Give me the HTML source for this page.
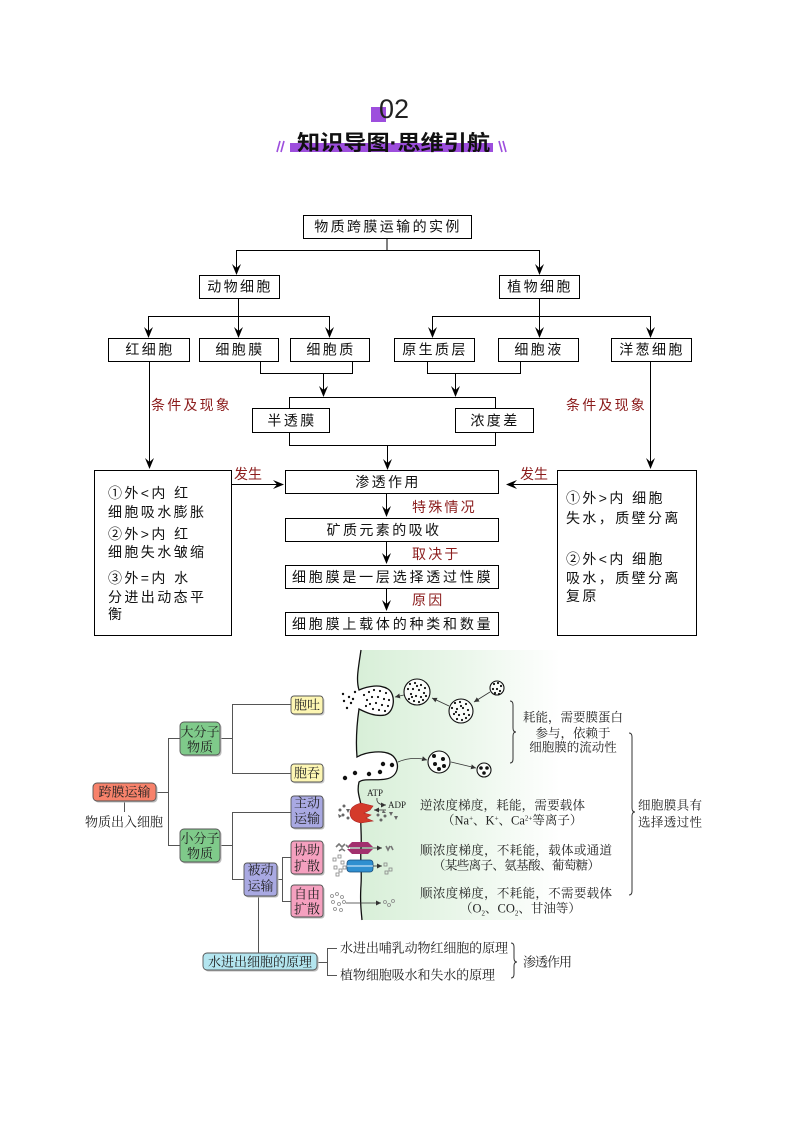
<!DOCTYPE html>
<html>
<head>
<meta charset="utf-8">
<style>
html,body{margin:0;padding:0;background:#fff;}
svg{display:block;}
.s{font-family:"Liberation Sans","Noto Sans CJK SC",sans-serif;font-size:14px;fill:#111;letter-spacing:2.4px;}
.r{font-family:"Liberation Sans","Noto Sans CJK SC",sans-serif;font-size:14px;fill:#8b1c1c;letter-spacing:2.2px;}
.f{font-family:"Liberation Serif","Noto Serif CJK SC",serif;font-size:13px;fill:#222;}
.g{font-family:"Liberation Serif","Noto Serif CJK SC",serif;font-size:12.5px;fill:#222;}
</style>
</head>
<body>
<svg width="794" height="1123" viewBox="0 0 794 1123" xmlns="http://www.w3.org/2000/svg">
<defs>
<linearGradient id="gr" x1="360" y1="0" x2="560" y2="0" gradientUnits="userSpaceOnUse">
<stop offset="0" stop-color="#d8efd8"/>
<stop offset="0.55" stop-color="#ecf7ec"/>
<stop offset="1" stop-color="#ffffff"/>
</linearGradient>
<marker id="ma" markerWidth="6" markerHeight="6" refX="5" refY="3" orient="auto" markerUnits="userSpaceOnUse">
<path d="M0,0.5 L5,3 L0,5.5 Z" fill="#333"/>
</marker>
</defs>

<!-- HEADER -->
<rect x="371" y="107" width="15" height="15" fill="#9d4edd"/>
<text x="379" y="118" font-family="'Liberation Sans',sans-serif" font-size="27" fill="#222">02</text>
<rect x="290" y="143" width="203" height="9" fill="#9d4edd"/>
<text x="297" y="150" font-family="'Liberation Sans','Noto Sans CJK SC',sans-serif" font-size="21" font-weight="700" fill="#111" textLength="193" lengthAdjust="spacingAndGlyphs">知识导图·思维引航</text>
<g stroke="#9d4edd" stroke-width="1.6">
<line x1="277" y1="152" x2="280" y2="141"/><line x1="281" y1="152" x2="284" y2="141"/>
<line x1="499" y1="141" x2="502" y2="152"/><line x1="503" y1="141" x2="506" y2="152"/>
</g>

<!-- TOP FLOWCHART -->
<g stroke="#000" stroke-width="1" fill="none">
<rect x="303.5" y="215.5" width="168" height="23"/>
<line x1="387" y1="238" x2="387" y2="250"/>
<line x1="236" y1="250.5" x2="539" y2="250.5"/>
<line x1="236.5" y1="250" x2="236.5" y2="270"/>
<line x1="539.5" y1="250" x2="539.5" y2="270"/>
<rect x="199.5" y="275.5" width="80" height="23"/>
<rect x="499.5" y="275.5" width="80" height="23"/>
<line x1="238.5" y1="298" x2="238.5" y2="332"/>
<line x1="148" y1="316.5" x2="330" y2="316.5"/>
<line x1="148.5" y1="316" x2="148.5" y2="332"/>
<line x1="329.5" y1="316" x2="329.5" y2="332"/>
<line x1="539.5" y1="298" x2="539.5" y2="332"/>
<line x1="432" y1="316.5" x2="651" y2="316.5"/>
<line x1="432.5" y1="316" x2="432.5" y2="332"/>
<line x1="650.5" y1="316" x2="650.5" y2="332"/>
<rect x="108.5" y="338.5" width="81" height="23"/>
<rect x="199.5" y="338.5" width="79" height="23"/>
<rect x="290.5" y="338.5" width="79" height="23"/>
<rect x="394.5" y="338.5" width="80" height="23"/>
<rect x="498.5" y="338.5" width="80" height="23"/>
<rect x="611.5" y="338.5" width="80" height="23"/>
<polyline points="260.5,361 260.5,373.5 352.5,373.5 352.5,361"/>
<line x1="323.5" y1="373" x2="323.5" y2="392"/>
<polyline points="427.5,361 427.5,373.5 520.5,373.5 520.5,361"/>
<line x1="455.5" y1="373" x2="455.5" y2="392"/>
<polyline points="289.5,408 289.5,397.5 495.5,397.5 495.5,408"/>
<rect x="252.5" y="408.5" width="77" height="24"/>
<rect x="455.5" y="408.5" width="78" height="24"/>
<polyline points="289.5,432 289.5,445.5 495.5,445.5 495.5,432"/>
<line x1="387.5" y1="445" x2="387.5" y2="465"/>
<line x1="149.5" y1="361" x2="149.5" y2="464"/>
<line x1="650.5" y1="361" x2="650.5" y2="464"/>
<rect x="94.5" y="470.5" width="137" height="165"/>
<rect x="557.5" y="470.5" width="139" height="165"/>
<rect x="285.5" y="470.5" width="213" height="23"/>
<rect x="285.5" y="518.5" width="213" height="23"/>
<rect x="285.5" y="565.5" width="213" height="23"/>
<rect x="285.5" y="612.5" width="213" height="23"/>
<line x1="231" y1="484.5" x2="278" y2="484.5"/>
<line x1="557" y1="484.5" x2="512" y2="484.5"/>
<line x1="386.5" y1="493" x2="386.5" y2="511"/>
<line x1="386.5" y1="541" x2="386.5" y2="558"/>
<line x1="386.5" y1="588" x2="386.5" y2="605"/>
</g>
<g fill="#000">
<polygon points="236.5,275 232,264 236.5,268 241,264"/>
<polygon points="539.5,275 535,264 539.5,268 544,264"/>
<polygon points="148.5,338 144,327 148.5,331 153,327"/>
<polygon points="238.5,338 234,327 238.5,331 243,327"/>
<polygon points="329.5,338 325,327 329.5,331 334,327"/>
<polygon points="432.5,338 428,327 432.5,331 437,327"/>
<polygon points="539.5,338 535,327 539.5,331 544,327"/>
<polygon points="650.5,338 646,327 650.5,331 655,327"/>
<polygon points="323.5,397 319,386 323.5,390 328,386"/>
<polygon points="455.5,397 451,386 455.5,390 460,386"/>
<polygon points="387.5,470 383,459 387.5,463 392,459"/>
<polygon points="149.5,469 145,458 149.5,462 154,458"/>
<polygon points="650.5,469 646,458 650.5,462 655,458"/>
<polygon points="284,484.5 273,480 277,484.5 273,489"/>
<polygon points="506,484.5 517,480 513,484.5 517,489"/>
<polygon points="386.5,517 382,506 386.5,510 391,506"/>
<polygon points="386.5,564 382,553 386.5,557 391,553"/>
<polygon points="386.5,611 382,600 386.5,604 391,600"/>
</g>

<g class="s" text-anchor="middle">
<text x="388" y="231.5">物质跨膜运输的实例</text>
<text x="240" y="291.5">动物细胞</text>
<text x="540" y="291.5">植物细胞</text>
<text x="150" y="354.5">红细胞</text>
<text x="240" y="354.5">细胞膜</text>
<text x="331" y="354.5">细胞质</text>
<text x="435" y="354.5">原生质层</text>
<text x="539" y="354.5">细胞液</text>
<text x="652" y="354.5">洋葱细胞</text>
<text x="292" y="425.5">半透膜</text>
<text x="495" y="425.5">浓度差</text>
<text x="388" y="487">渗透作用</text>
<text x="384" y="535">矿质元素的吸收</text>
</g>
<text class="s" x="292" y="582" textLength="201" lengthAdjust="spacing">细胞膜是一层选择透过性膜</text>
<text class="s" x="292" y="629" textLength="201" lengthAdjust="spacing">细胞膜上载体的种类和数量</text>

<g class="r">
<text x="151" y="410">条件及现象</text>
<text x="566" y="410">条件及现象</text>
<text x="234" y="479" letter-spacing="0">发生</text>
<text x="520" y="479" letter-spacing="0">发生</text>
<text x="412" y="512">特殊情况</text>
<text x="412" y="559">取决于</text>
<text x="412" y="605">原因</text>
</g>

<g class="s" letter-spacing="2.6">
<text x="108" y="498">①外&lt;内 红</text>
<text x="108" y="517">细胞吸水膨胀</text>
<text x="108" y="539">②外&gt;内 红</text>
<text x="108" y="557">细胞失水皱缩</text>
<text x="108" y="583">③外=内 水</text>
<text x="108" y="602">分进出动态平</text>
<text x="108" y="619">衡</text>
<text x="566" y="503">①外&gt;内 细胞</text>
<text x="566" y="523">失水，质壁分离</text>
<text x="566" y="564">②外&lt;内 细胞</text>
<text x="566" y="583">吸水，质壁分离</text>
<text x="566" y="601">复原</text>
</g>

<!-- LOWER DIAGRAM: membrane region -->
<path d="M361 650 C358 670 356 680 359 690 C368 686 380 684 388 689 C396 694 395 712 385 715 C375 717 365 712 359 709 C356 730 356 745 357 757 C365 752 385 749 393 756 C401 764 398 777 386 779 C375 781 364 778 359 782 C356 795 362 800 361 810 C360 825 362 835 361 848 C360 860 362 870 361 885 C360 900 361 910 362 920 L560 920 L560 650 Z" fill="url(#gr)"/>
<path d="M361 650 C358 670 356 680 359 690 C368 686 380 684 388 689 C396 694 395 712 385 715 C375 717 365 712 359 709 C356 730 356 745 357 757 C365 752 385 749 393 756 C401 764 398 777 386 779 C375 781 364 778 359 782 C356 795 362 800 361 810 C360 825 362 835 361 848 C360 860 362 870 361 885 C360 900 361 910 362 920" fill="none" stroke="#111" stroke-width="1.3"/>

<!-- vesicles -->
<g fill="#fafdfa" stroke="#111" stroke-width="1.1">
<circle cx="417" cy="692" r="13"/>
<circle cx="461" cy="711" r="12"/>
<circle cx="497" cy="688" r="7"/>
<circle cx="439" cy="762" r="11"/>
<circle cx="484" cy="770" r="7"/>
</g>
<g fill="#111">
<circle cx="410" cy="684" r="1.1"/><circle cx="415" cy="683" r="1.1"/><circle cx="421" cy="685" r="1.1"/><circle cx="425" cy="688" r="1.1"/><circle cx="408" cy="689" r="1.1"/><circle cx="413" cy="689" r="1.1"/><circle cx="419" cy="690" r="1.1"/><circle cx="424" cy="693" r="1.1"/><circle cx="411" cy="694" r="1.1"/><circle cx="416" cy="696" r="1.1"/><circle cx="421" cy="697" r="1.1"/><circle cx="426" cy="696" r="1.1"/><circle cx="409" cy="699" r="1.1"/><circle cx="414" cy="701" r="1.1"/><circle cx="419" cy="702" r="1.1"/><circle cx="423" cy="700" r="1.1"/><circle cx="417" cy="686" r="1.1"/><circle cx="412" cy="697" r="1.1"/>
<circle cx="455" cy="703" r="1.1"/><circle cx="460" cy="702" r="1.1"/><circle cx="466" cy="704" r="1.1"/><circle cx="452" cy="708" r="1.1"/><circle cx="457" cy="709" r="1.1"/><circle cx="463" cy="708" r="1.1"/><circle cx="468" cy="710" r="1.1"/><circle cx="454" cy="714" r="1.1"/><circle cx="459" cy="715" r="1.1"/><circle cx="464" cy="714" r="1.1"/><circle cx="469" cy="715" r="1.1"/><circle cx="457" cy="719" r="1.1"/><circle cx="462" cy="720" r="1.1"/><circle cx="466" cy="718" r="1.1"/><circle cx="461" cy="706" r="1.1"/><circle cx="456" cy="712" r="1.1"/>
<circle cx="494" cy="684" r="1.1"/><circle cx="498" cy="683" r="1.1"/><circle cx="501" cy="686" r="1.1"/><circle cx="493" cy="689" r="1.1"/><circle cx="497" cy="689" r="1.1"/><circle cx="500" cy="691" r="1.1"/><circle cx="495" cy="693" r="1.1"/><circle cx="499" cy="694" r="1.1"/>
<circle cx="364" cy="695" r="1.1"/><circle cx="369" cy="692" r="1.1"/><circle cx="374" cy="690" r="1.1"/><circle cx="380" cy="691" r="1.1"/><circle cx="386" cy="693" r="1.1"/><circle cx="367" cy="700" r="1.1"/><circle cx="372" cy="697" r="1.1"/><circle cx="378" cy="697" r="1.1"/><circle cx="384" cy="699" r="1.1"/><circle cx="389" cy="700" r="1.1"/><circle cx="370" cy="704" r="1.1"/><circle cx="376" cy="703" r="1.1"/><circle cx="382" cy="705" r="1.1"/><circle cx="388" cy="706" r="1.1"/><circle cx="373" cy="709" r="1.1"/><circle cx="379" cy="710" r="1.1"/><circle cx="385" cy="711" r="1.1"/><circle cx="366" cy="706" r="1.1"/>
<circle cx="343" cy="694" r="1.2"/><circle cx="349" cy="697" r="1.2"/><circle cx="344" cy="701" r="1.2"/><circle cx="351" cy="703" r="1.2"/><circle cx="347" cy="708" r="1.2"/><circle cx="353" cy="699" r="1.2"/><circle cx="355" cy="692" r="1.2"/>
<circle cx="383" cy="764" r="2.2"/><circle cx="392" cy="765" r="2.2"/><circle cx="369" cy="774" r="2.2"/><circle cx="380" cy="772" r="2.2"/><circle cx="355" cy="773" r="2.2"/><circle cx="345" cy="778" r="2.2"/>
<circle cx="434" cy="756" r="2"/><circle cx="443" cy="759" r="2"/><circle cx="435" cy="764" r="2"/><circle cx="444" cy="766" r="2"/><circle cx="439" cy="769" r="2"/>
<circle cx="481" cy="768" r="1.8"/><circle cx="487" cy="768" r="1.8"/><circle cx="484" cy="773" r="1.8"/>
</g>
<g stroke="#333" stroke-width="0.8" fill="none" marker-end="url(#ma)">
<line x1="490" y1="692" x2="474" y2="702"/>
<line x1="449" y1="706" x2="432" y2="698"/>
<line x1="404" y1="695" x2="395" y2="697"/>
<path d="M398 762 Q412 756 427 760"/>
<line x1="451" y1="762" x2="476" y2="768"/>
</g>

<!-- active transport -->
<path d="M373 806 L361 803 Q350 806 350 813 Q350 821 361 823 L373 821 L366 818 L371 815 L364 813 L370 810 Z" fill="#d43a2a" stroke="#a22" stroke-width="0.6"/>
<text x="367" y="796" font-family="'Liberation Serif',serif" font-size="9" fill="#222">ATP</text>
<text x="388" y="808" font-family="'Liberation Serif',serif" font-size="9" fill="#222">ADP</text>
<path d="M377 798 Q376 805 386 805" fill="none" stroke="#333" stroke-width="0.8" marker-end="url(#ma)"/>
<line x1="386" y1="810" x2="374" y2="810" stroke="#333" stroke-width="0.8" marker-end="url(#ma)"/>
<g fill="#666">
<circle cx="340" cy="810" r="1.5"/><circle cx="344" cy="806" r="1.5"/><circle cx="343" cy="815" r="1.5"/><circle cx="348" cy="818" r="1.5"/>
<polygon points="346,809 350,809 348,813"/><polygon points="338,814 342,816 339,818"/>
<circle cx="378" cy="815" r="1.5"/><circle cx="381" cy="820" r="1.5"/><circle cx="385" cy="816" r="1.5"/>
<polygon points="389,812 393,812 391,816"/><polygon points="394,816 398,816 396,820"/><polygon points="383,810 386,813 382,813"/>
</g>
<!-- facilitated -->
<polygon points="347,847 352,842 368,842 373,847" fill="#a2306e"/>
<polygon points="347,849 352,854 368,854 373,849" fill="#a2306e"/>
<line x1="350" y1="848" x2="382" y2="848" stroke="#333" stroke-width="0.8" marker-end="url(#ma)"/>
<g stroke="#777" stroke-width="1.6" fill="none">
<path d="M336 847 l3 -3 l3 3 l3 -3"/><path d="M339 851 l3 -2 l3 2"/><path d="M346 845 l3 3"/>
<path d="M386 846 l2 4 l2 -4"/><path d="M391 846 l2 4"/>
</g>
<rect x="347" y="860" width="26" height="12" rx="3" fill="#2f8fd0" stroke="#1a4d7a" stroke-width="0.8"/>
<line x1="347" y1="866" x2="373" y2="866" stroke="#e8f4ff" stroke-width="1"/>
<line x1="373" y1="866" x2="382" y2="866" stroke="#333" stroke-width="0.8" marker-end="url(#ma)"/>
<g fill="none" stroke="#888" stroke-width="0.8">
<rect x="333" y="858" width="3" height="3"/><rect x="338" y="855" width="3" height="3"/><rect x="341" y="861" width="3" height="3"/><rect x="334" y="866" width="3" height="3"/><rect x="339" y="869" width="3" height="3"/><rect x="343" y="866" width="3" height="3"/><rect x="336" y="873" width="3" height="3"/>
<rect x="384" y="863" width="3" height="3"/><rect x="389" y="868" width="3" height="3"/><rect x="385" y="871" width="3" height="3"/>
<circle cx="332" cy="896" r="1.5"/><circle cx="337" cy="894" r="1.5"/><circle cx="342" cy="897" r="1.5"/><circle cx="333" cy="902" r="1.5"/><circle cx="339" cy="904" r="1.5"/><circle cx="344" cy="902" r="1.5"/><circle cx="335" cy="909" r="1.5"/><circle cx="341" cy="910" r="1.5"/>
<circle cx="385" cy="902" r="1.5"/><circle cx="389" cy="905" r="1.5"/><circle cx="393" cy="901" r="1.5"/>
</g>
<line x1="346" y1="903" x2="381" y2="903" stroke="#333" stroke-width="0.8" marker-end="url(#ma)"/>

<!-- connector lines lower -->
<g stroke="#555" stroke-width="1" fill="none">
<polyline points="156,792.5 168.5,792.5"/>
<line x1="168.5" y1="738" x2="168.5" y2="845"/>
<line x1="168" y1="738.5" x2="180" y2="738.5"/>
<line x1="168" y1="845.5" x2="180" y2="845.5"/>
<line x1="124.5" y1="801" x2="124.5" y2="812"/>
<line x1="220" y1="738.5" x2="232" y2="738.5"/>
<line x1="232.5" y1="704" x2="232.5" y2="773"/>
<line x1="232" y1="704.5" x2="291" y2="704.5"/>
<line x1="232" y1="773.5" x2="291" y2="773.5"/>
<line x1="220" y1="845.5" x2="232" y2="845.5"/>
<line x1="232.5" y1="812" x2="232.5" y2="879"/>
<line x1="232" y1="812.5" x2="291" y2="812.5"/>
<line x1="232" y1="879.5" x2="244" y2="879.5"/>
<line x1="277" y1="879.5" x2="282" y2="879.5"/>
<line x1="282.5" y1="857" x2="282.5" y2="901"/>
<line x1="282" y1="857.5" x2="291" y2="857.5"/>
<line x1="282" y1="901.5" x2="291" y2="901.5"/>
<line x1="258.5" y1="896" x2="258.5" y2="953"/>
<line x1="317" y1="962.5" x2="327" y2="962.5"/>
<line x1="327.5" y1="948" x2="327.5" y2="975"/>
<line x1="327" y1="948.5" x2="337" y2="948.5"/>
<line x1="327" y1="975.5" x2="337" y2="975.5"/>
</g>

<!-- boxes lower -->
<g stroke="#555" stroke-width="0.9">
<rect x="94.5" y="784.5" width="63" height="18" rx="4" fill="#bbb" stroke="none"/>
<rect x="93" y="783" width="63" height="18" rx="4" fill="#f7826b"/>
<rect x="181.5" y="723.5" width="40" height="33" rx="4" fill="#bbb" stroke="none"/>
<rect x="180" y="722" width="40" height="33" rx="4" fill="#7fca8a"/>
<rect x="181.5" y="830.5" width="40" height="33" rx="4" fill="#bbb" stroke="none"/>
<rect x="180" y="829" width="40" height="33" rx="4" fill="#7fca8a"/>
<rect x="292.5" y="697.5" width="32" height="18" rx="3" fill="#ccc" stroke="none"/>
<rect x="291" y="696" width="32" height="18" rx="3" fill="#fdf6b3"/>
<rect x="292.5" y="765.5" width="32" height="18" rx="3" fill="#ccc" stroke="none"/>
<rect x="291" y="764" width="32" height="18" rx="3" fill="#fdf6b3"/>
<rect x="292.5" y="797.5" width="32" height="32" rx="3" fill="#bbb" stroke="none"/>
<rect x="291" y="796" width="32" height="32" rx="3" fill="#a9a9e2"/>
<rect x="245.5" y="864.5" width="33" height="33" rx="3" fill="#bbb" stroke="none"/>
<rect x="244" y="863" width="33" height="33" rx="3" fill="#a9a9e2"/>
<rect x="292.5" y="842.5" width="32" height="33" rx="3" fill="#bbb" stroke="none"/>
<rect x="291" y="841" width="32" height="33" rx="3" fill="#f5a0bf"/>
<rect x="292.5" y="886.5" width="32" height="32" rx="3" fill="#bbb" stroke="none"/>
<rect x="291" y="885" width="32" height="32" rx="3" fill="#f5a0bf"/>
<rect x="204.5" y="954.5" width="114" height="17" rx="4" fill="#bbb" stroke="none"/>
<rect x="203" y="953" width="114" height="17" rx="4" fill="#b3e5ef"/>
</g>

<g class="f" text-anchor="middle">
<text x="124.5" y="796.5">跨膜运输</text>
<text x="124" y="826.5">物质出入细胞</text>
<text x="200" y="736.5">大分子</text>
<text x="200" y="751.5">物质</text>
<text x="200" y="843">小分子</text>
<text x="200" y="858">物质</text>
<text x="307" y="709.5">胞吐</text>
<text x="307" y="777.5">胞吞</text>
<text x="307" y="807.5">主动</text>
<text x="307" y="823">运输</text>
<text x="260.5" y="874.5">被动</text>
<text x="260.5" y="890.5">运输</text>
<text x="307" y="854.5">协助</text>
<text x="307" y="870.5">扩散</text>
<text x="307" y="898.5">自由</text>
<text x="307" y="913.5">扩散</text>
<text x="260" y="966.5">水进出细胞的原理</text>
</g>
<g class="f">
<text x="340" y="952.5" textLength="168" lengthAdjust="spacing">水进出哺乳动物红细胞的原理</text>
<text x="340" y="979.5" textLength="155" lengthAdjust="spacing">植物细胞吸水和失水的原理</text>
<text x="523" y="966.5" textLength="49" lengthAdjust="spacing">渗透作用</text>
</g>

<g class="g">
<text x="573" y="721.5" text-anchor="middle">耗能，需要膜蛋白</text>
<text x="573" y="737.5" text-anchor="middle">参与，依赖于</text>
<text x="573" y="751.5" text-anchor="middle">细胞膜的流动性</text>
<text x="638" y="809.5" textLength="64" lengthAdjust="spacing">细胞膜具有</text>
<text x="638" y="826.5" textLength="64" lengthAdjust="spacing">选择透过性</text>
<text x="420" y="809.5" textLength="165" lengthAdjust="spacing">逆浓度梯度，耗能，需要载体</text>
<text x="442" y="824.5">（Na<tspan font-size="7" dy="-4">+</tspan><tspan dy="4">、K</tspan><tspan font-size="7" dy="-4">+</tspan><tspan dy="4">、Ca</tspan><tspan font-size="7" dy="-4">2+</tspan><tspan dy="4">等离子）</tspan></text>
<text x="420" y="854.5" textLength="192" lengthAdjust="spacing">顺浓度梯度，不耗能，载体或通道</text>
<text x="433" y="869.5" textLength="167" lengthAdjust="spacing">（某些离子、氨基酸、葡萄糖）</text>
<text x="420" y="897.5" textLength="192" lengthAdjust="spacing">顺浓度梯度，不耗能，不需要载体</text>
<text x="460" y="912.5">（O<tspan font-size="7" dy="3">2</tspan><tspan dy="-3">、CO</tspan><tspan font-size="7" dy="3">2</tspan><tspan dy="-3">、甘油等）</tspan></text>
</g>

<!-- braces -->
<g fill="none" stroke="#333" stroke-width="1">
<path d="M510 701 Q513 701 513 705 L513 728 Q513 732 516 732 Q513 732 513 736 L513 759 Q513 763 510 763"/>
<path d="M629 733 Q632 733 632 737 L632 808 Q632 812 635 812 Q632 812 632 816 L632 891 Q632 895 629 895"/>
<path d="M511 943 Q514 943 514 947 L514 958 Q514 962 517 962 Q514 962 514 966 L514 974 Q514 978 511 978"/>
</g>
</svg>
</body>
</html>
